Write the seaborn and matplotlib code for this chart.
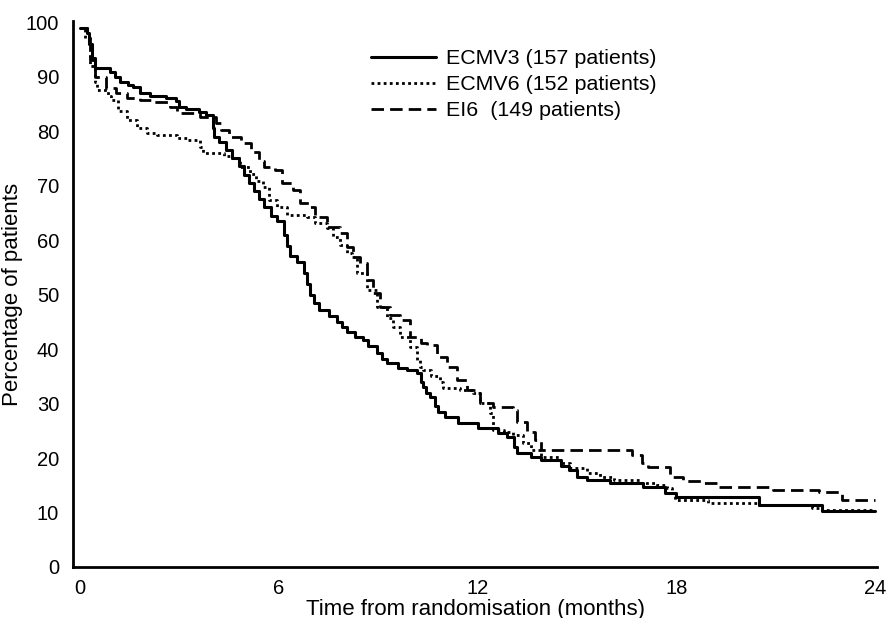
import matplotlib
matplotlib.use("Agg")
import matplotlib.pyplot as plt
import seaborn as sns
import numpy as np

# ---- data (months, percentage of patients) ----
ecmv3_t = [0, 0.2, 0.28, 0.36, 0.45, 0.9, 1.05, 1.2, 1.45, 1.6, 1.8, 2.1, 2.6, 2.9, 3.0, 3.2, 3.6, 3.8,
           4.0, 4.05, 4.2, 4.4, 4.6, 4.8, 4.95, 5.1, 5.25, 5.4, 5.55, 5.75, 5.95, 6.15, 6.25, 6.35, 6.55,
           6.75, 6.85, 6.95, 7.05, 7.2, 7.5, 7.75, 7.9, 8.05, 8.3, 8.54, 8.7, 8.96, 9.1, 9.26, 9.6, 9.86,
           10.17, 10.3, 10.35, 10.45, 10.56, 10.7, 10.8, 11.0, 11.4, 12.0, 12.6, 12.9, 13.1, 13.2, 13.6,
           13.9, 14.5, 14.75, 15.0, 15.3, 16.0, 17.0, 17.65, 18.0, 20.5, 22.4, 24.0]
ecmv3_s = [99, 98, 96, 93.5, 91.5, 90.8, 90, 89, 88.5, 88, 87, 86.5, 86, 85.5, 84.5, 84, 83.5, 83,
           80.5, 79, 78, 76.5, 75, 73.5, 72, 70.5, 69, 67.5, 66, 64.5, 63.5, 61, 59, 57, 56,
           54, 52, 50, 48.5, 47.2, 46, 45, 44, 43.1, 42.3, 41.6, 40.5, 39.3, 38.2, 37.4, 36.6, 36.1,
           35.6, 34, 33, 32, 31.2, 29.5, 28.5, 27.5, 26.4, 25.5, 24.6, 23.9, 22.0, 20.9, 20.2,
           19.6, 18.5, 17.8, 16.5, 16.0, 15.4, 14.7, 13.6, 12.8, 11.4, 10.3, 10.3]

ecmv6_t = [0, 0.15, 0.3, 0.45, 0.5, 0.85, 0.95, 1.15, 1.42, 1.72, 2.02, 2.32, 2.93, 3.23, 3.62, 3.71,
           4.35, 4.52, 4.83, 5.13, 5.3, 5.52, 5.7, 5.94, 6.25, 6.85, 7.1, 7.45, 7.65, 7.85, 8.05, 8.2,
           8.35, 8.65, 8.96, 9.26, 9.44, 9.65, 9.95, 10.17, 10.26, 10.35, 10.6, 10.86, 10.95, 11.46,
           11.86, 12.07, 12.37, 12.46, 12.8, 13.06, 13.36, 13.6, 13.9, 14.48, 14.78, 15.29, 15.7, 16.1,
           16.9, 17.4, 17.7, 17.85, 17.95, 18.95, 20.5, 22.1, 22.4, 24.0]
ecmv6_s = [99, 97, 92, 89, 87.5, 86.5, 85.7, 83.7, 82, 80.5, 79.7, 79.3, 78.7, 78.3, 77, 76,
           75.5, 75, 73.4, 72.2, 70.8, 69.7, 67.3, 66, 64.6, 64.2, 63.1, 62.2, 60.6, 59.1, 57.6, 56.9,
           53.9, 50.8, 47.7, 45.7, 44, 42.2, 40.4, 38, 36.7, 36.1, 35, 34, 32.8, 32.5,
           31.9, 30.1, 28.3, 25.1, 24.8, 24.2, 22.8, 21.5, 20.2, 19.1, 18.2, 17.2, 16.5, 16.0,
           15.5, 15.0, 14.5, 13.5, 12.3, 11.7, 11.4, 10.8, 10.5, 10.5]

ei6_t = [0, 0.2, 0.3, 0.45, 0.8, 1.1, 1.42, 1.81, 2.2, 2.71, 2.93, 3.62, 4.1, 4.25, 4.5, 4.85, 5.15,
         5.4, 5.55, 5.9, 6.1, 6.43, 6.64, 6.94, 7.09, 7.45, 7.84, 8.05, 8.24, 8.44, 8.65, 8.84, 9.05,
         9.35, 9.65, 9.95, 10.3, 10.47, 10.77, 11.07, 11.37, 11.68, 12.0, 12.07, 12.46, 13.06, 13.2,
         13.5, 13.72, 13.9, 16.65, 16.95, 17.13, 17.8, 18.2, 18.8, 19.22, 20.9, 22.3, 22.99, 24.0]
ei6_s = [99, 97, 93, 89.9, 87.9, 87, 86, 85.7, 85.3, 84.4, 83.3, 82.5, 81.5, 80.2, 78.9, 77.8, 76.2,
         74.5, 73.4, 72.8, 70.5, 69.2, 66.8, 66, 64.2, 62.4, 61.3, 58.7, 56.9, 55.8, 52.7, 50.3, 47.7,
         46.2, 45.3, 42.2, 41.1, 40.7, 38.5, 36.7, 34.3, 32.5, 31.9, 30.1, 29.4, 28.8, 26.6,
         24.8, 23.3, 21.5, 20.5, 19.0, 18.4, 16.5, 15.8, 15.4, 14.7, 14.1, 13.8, 12.3, 12.3]

labels = ["ECMV3 (157 patients)", "ECMV6 (152 patients)", "EI6  (149 patients)"]
x_ticks = [0, 6, 12, 18, 24]
y_ticks = [0, 10, 20, 30, 40, 50, 60, 70, 80, 90, 100]

sns.set_theme(style="white")
plt.rcParams["font.family"] = ["Liberation Sans", "DejaVu Sans"]

fig = plt.figure(figsize=(8.86, 6.18), dpi=100)
ax = fig.add_axes([73 / 886, 1 - 567 / 618, (877 - 73) / 886, (567 - 21) / 618])

series = [
    (ecmv3_t, ecmv3_s, "-", 2.2),
    (ecmv6_t, ecmv6_s, (0, (1, 1.2)), 2.0),
    (ei6_t, ei6_s, (0, (4.5, 2.2)), 2.0),
]
for (t, s, ls, lw), lab in zip(series, labels):
    sns.lineplot(x=np.array(t), y=np.array(s), ax=ax, color="black", linestyle=ls,
                 linewidth=lw, drawstyle="steps-post", label=lab, estimator=None)

ax.set_xlim(-0.21, 24.05)
ax.set_ylim(0, 100.2)
ax.set_xticks(x_ticks)
ax.set_yticks(y_ticks)
ax.tick_params(axis="both", direction="out", length=7, width=1.5, color="black",
               labelsize=14.5, labelcolor="black", pad=3)
ax.tick_params(axis="x", pad=2)
for side in ["top", "right"]:
    ax.spines[side].set_visible(False)
for side in ["left", "bottom"]:
    ax.spines[side].set_linewidth(2)
    ax.spines[side].set_color("black")

ax.set_xlabel("Time from randomisation (months)", fontsize=16, color="black", labelpad=0)
ax.set_ylabel("Percentage of patients", fontsize=16, color="black", labelpad=2)

leg = ax.legend(loc="upper left", bbox_to_anchor=(371 / 886, 1 - 49 / 618),
                bbox_transform=fig.transFigure, frameon=False, fontsize=15.4,
                handlelength=3.04, handletextpad=0.47, labelspacing=0.33,
                borderpad=0, borderaxespad=0)
for txt in leg.get_texts():
    txt.set_color("black")

fig.savefig("out.png", dpi=100)
